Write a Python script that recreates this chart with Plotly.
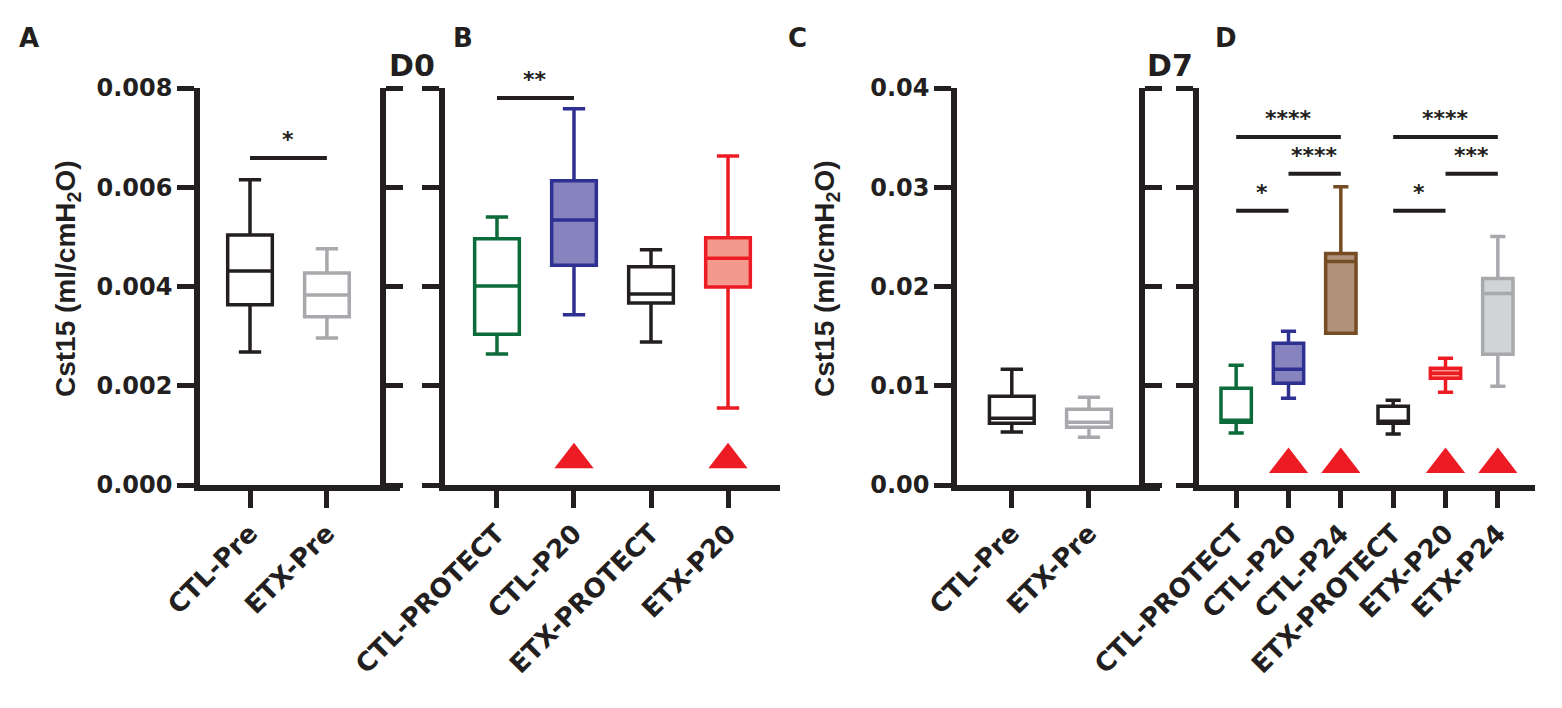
import plotly.graph_objects as go

# ---- data (Cst15, ml/cmH2O), box stats ----
# D0, baseline
pre0_groups = ["CTL-Pre", "ETX-Pre"]
pre0_min = [0.00268, 0.00296]
pre0_q1 = [0.00363, 0.00339]
pre0_med = [0.00431, 0.00383]
pre0_q3 = [0.00504, 0.00427]
pre0_max = [0.00615, 0.00476]

# D0, protocols
d0_groups = ["CTL-PROTECT", "CTL-P20", "ETX-PROTECT", "ETX-P20"]
d0_min = [0.00264, 0.00343, 0.00288, 0.00155]
d0_q1 = [0.00304, 0.00443, 0.00367, 0.00399]
d0_med = [0.00401, 0.00534, 0.00385, 0.00457]
d0_q3 = [0.00496, 0.00613, 0.00440, 0.00498]
d0_max = [0.00540, 0.00758, 0.00474, 0.00663]

# D7, baseline
pre7_groups = ["CTL-Pre", "ETX-Pre"]
pre7_min = [0.00533, 0.00482]
pre7_q1 = [0.00623, 0.00583]
pre7_med = [0.00673, 0.00633]
pre7_q3 = [0.00894, 0.00764]
pre7_max = [0.01166, 0.00884]

# D7, protocols
d7_groups = ["CTL-PROTECT", "CTL-P20", "CTL-P24", "ETX-PROTECT", "ETX-P20", "ETX-P24"]
d7_min = [0.00523, 0.00874, 0.01528, 0.00513, 0.00935, 0.00995]
d7_q1 = [0.00633, 0.01025, 0.01528, 0.00623, 0.01075, 0.01317]
d7_med = [0.00653, 0.01166, 0.02251, 0.00643, 0.01126, 0.01930]
d7_q3 = [0.00975, 0.01427, 0.02332, 0.00794, 0.01176, 0.02080]
d7_max = [0.01206, 0.01548, 0.03005, 0.00854, 0.01276, 0.02503]

# significance: (group a, group b, bar height, label)
pre0_sig = [("CTL-Pre", "ETX-Pre", 0.00659, "*")]
d0_sig = [("CTL-PROTECT", "CTL-P20", 0.0078, "**")]
d7_sig = [
    ("CTL-PROTECT", "CTL-P24", 0.03507, "****"),
    ("CTL-P20", "CTL-P24", 0.03136, "****"),
    ("CTL-PROTECT", "CTL-P20", 0.02764, "*"),
    ("ETX-PROTECT", "ETX-P24", 0.03507, "****"),
    ("ETX-P20", "ETX-P24", 0.03136, "***"),
    ("ETX-PROTECT", "ETX-P20", 0.02764, "*"),
]

# red triangles
d0_flag = ["CTL-P20", "ETX-P20"]
d0_flag_y = 0.00051
d7_flag = ["CTL-P20", "CTL-P24", "ETX-P20", "ETX-P24"]
d7_flag_y = 0.00206

# ---- styles ----
BLACK = "#231f20"
col = {
    "CTL-Pre": (BLACK, "white"),
    "ETX-Pre": ("#a7a9ac", "white"),
    "CTL-PROTECT": ("#0b6b3a", "white"),
    "CTL-P20": ("#2e3192", "#8783bf"),
    "CTL-P24": ("#754c24", "#b0937a"),
    "ETX-PROTECT": (BLACK, "white"),
    "ETX-P20": ("#ed1c24", "#f4998d"),
    "ETX-P24": ("#a7a9ac", "#d1d3d4"),
}
TICKFONT = dict(family="DejaVu Sans", size=24, color=BLACK, weight="bold")
XTICKFONT = dict(family="DejaVu Sans", size=26, color=BLACK, weight="bold")

W, H = 1562, 708
OFF = 8  # page body margin


def px(x):
    return (x - OFF) / W


def py(y):
    return (H - (y - OFF)) / H


fig = go.Figure()


def boxes(groups, lo, q1, med, q3, hi, xa, ya):
    for i, g in enumerate(groups):
        c, f = col[g]
        fig.add_trace(go.Box(
            x=[i], lowerfence=[lo[i]], q1=[q1[i]], median=[med[i]], q3=[q3[i]],
            upperfence=[hi[i]], name=g, xaxis=xa, yaxis=ya, width=0.58,
            whiskerwidth=0.5, line=dict(color=c, width=3.5), fillcolor=f,
            boxpoints=False, showlegend=False, hoverinfo="skip"))


def sig(groups, bars, xa, ya):
    for a, b, h, lab in bars:
        ia, ib = groups.index(a), groups.index(b)
        fig.add_trace(go.Scatter(x=[ia, ib], y=[h, h], mode="lines", xaxis=xa, yaxis=ya,
                                 line=dict(color=BLACK, width=4), showlegend=False,
                                 hoverinfo="skip"))
        fig.add_annotation(x=(ia + ib) / 2, y=h, xref=xa, yref=ya, text=lab,
                           showarrow=False, xanchor="center", yanchor="bottom", yshift=4,
                           font=dict(family="DejaVu Sans", size=22, color=BLACK, weight="bold"))


def flags(groups, flagged, yv, xa, ya):
    fig.add_trace(go.Scatter(x=[groups.index(g) for g in flagged], y=[yv] * len(flagged),
                             mode="markers", xaxis=xa, yaxis=ya, showlegend=False,
                             marker=dict(symbol="triangle-up", size=34, color="#ed1c24"),
                             hoverinfo="skip"))


boxes(pre0_groups, pre0_min, pre0_q1, pre0_med, pre0_q3, pre0_max, "x", "y")
boxes(d0_groups, d0_min, d0_q1, d0_med, d0_q3, d0_max, "x2", "y2")
boxes(pre7_groups, pre7_min, pre7_q1, pre7_med, pre7_q3, pre7_max, "x3", "y3")
boxes(d7_groups, d7_min, d7_q1, d7_med, d7_q3, d7_max, "x4", "y4")
sig(pre0_groups, pre0_sig, "x", "y")
sig(d0_groups, d0_sig, "x2", "y2")
sig(d7_groups, d7_sig, "x4", "y4")
flags(d0_groups, d0_flag, d0_flag_y, "x2", "y2")
flags(d7_groups, d7_flag, d7_flag_y, "x4", "y4")

# empty traces so the bracket axes of the broken axis get drawn
fig.add_trace(go.Scatter(x=[None], y=[None], xaxis="x", yaxis="y5", showlegend=False))
fig.add_trace(go.Scatter(x=[None], y=[None], xaxis="x3", yaxis="y6", showlegend=False))

ydom = [py(485), py(88)]
base = dict(showline=True, linecolor=BLACK, linewidth=5.5, ticks="outside", ticklen=17,
            tickwidth=5, tickcolor=BLACK, showgrid=False, zeroline=False, fixedrange=True,
            automargin=False)


def xax(groups, x0, x1, r0, r1, ya):
    return dict(base, domain=[px(x0), px(x1)], range=[r0, r1], anchor=ya,
                tickvals=list(range(len(groups))), ticktext=groups, tickangle=-45,
                tickfont=XTICKFONT)


fig.update_layout(
    width=W, height=H, margin=dict(l=0, r=0, t=0, b=0), template="none",
    plot_bgcolor="white", paper_bgcolor="white", boxmode="overlay",
    xaxis=xax(pre0_groups, 200, 400, -0.65, 1.95, "y"),
    xaxis2=xax(d0_groups, 445, 780, -0.675, 3.675, "y2"),
    xaxis3=xax(pre7_groups, 957, 1160, -0.71, 1.92, "y3"),
    xaxis4=xax(d7_groups, 1199, 1535, -0.71, 5.71, "y4"),
    yaxis=dict(base, domain=ydom, range=[0, 0.008], anchor="x",
               tickvals=[0, 0.002, 0.004, 0.006, 0.008], tickformat=".3f", tickfont=TICKFONT),
    yaxis2=dict(base, domain=ydom, range=[0, 0.008], anchor="x2",
                tickvals=[0, 0.002, 0.004, 0.006, 0.008], showticklabels=False),
    yaxis3=dict(base, domain=ydom, range=[0, 0.04], anchor="x3",
                tickvals=[0, 0.01, 0.02, 0.03, 0.04], tickformat=".2f", tickfont=TICKFONT),
    yaxis4=dict(base, domain=ydom, range=[0, 0.04], anchor="x4",
                tickvals=[0, 0.01, 0.02, 0.03, 0.04], showticklabels=False),
    yaxis5=dict(base, range=[0, 0.008], overlaying="y", anchor="free", side="right",
                position=px(383), tickvals=[0, 0.002, 0.004, 0.006, 0.008],
                showticklabels=False),
    yaxis6=dict(base, range=[0, 0.04], overlaying="y3", anchor="free", side="right",
                position=px(1142), tickvals=[0, 0.01, 0.02, 0.03, 0.04],
                showticklabels=False),
)

letter_font = dict(family="DejaVu Sans", size=26, color=BLACK, weight="bold")
for lab, x in [("A", 29), ("B", 463), ("C", 797), ("D", 1226)]:
    fig.add_annotation(x=px(x), y=py(38), xref="paper", yref="paper", text=lab,
                       showarrow=False, xanchor="center", yanchor="middle", font=letter_font)
for lab, x in [("D0", 412), ("D7", 1170)]:
    fig.add_annotation(x=px(x), y=py(65), xref="paper", yref="paper", text=lab,
                       showarrow=False, xanchor="center", yanchor="middle",
                       font=dict(family="DejaVu Sans", size=30, color=BLACK, weight="bold"))
for x in [67, 826]:
    fig.add_annotation(x=px(x), y=py(279), xref="paper", yref="paper",
                       text="Cst15 (ml/cmH<sub>2</sub>O)", textangle=-90, showarrow=False,
                       xanchor="center", yanchor="middle",
                       font=dict(family="Liberation Sans", size=28, color=BLACK,
                                 weight="bold"))

fig.write_html("out.html")
